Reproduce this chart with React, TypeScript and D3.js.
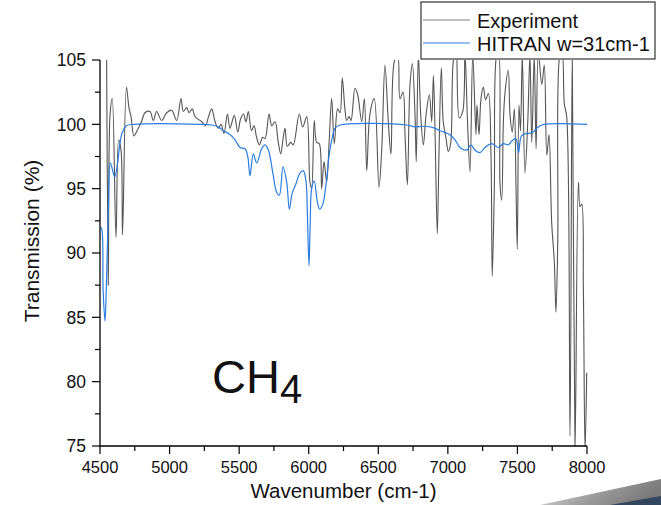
import React from "react";
import * as d3 from "d3";

const xTicks = [4500, 5000, 5500, 6000, 6500, 7000, 7500, 8000];
const yTicks = [75, 80, 85, 90, 95, 100, 105];
const legendLabels = ["Experiment", "HITRAN w=31cm-1"];

const experiment: [number, number][] = [
  [4547,105.8],[4560,87.5],[4572,100.7],[4588,102.0],[4615,91.2],[4634,98.8],[4651,98.0],[4662,91.4],
  [4690,102.9],[4708,101.3],[4723,100.6],[4744,99.1],[4766,99.5],[4798,100.2],[4823,100.9],[4859,101.0],
  [4883,100.3],[4907,101.0],[4943,100.3],[4979,100.9],[5015,101.1],[5051,100.3],[5082,102.0],[5099,101.0],
  [5123,101.3],[5140,100.9],[5163,101.2],[5183,100.6],[5231,100.2],[5258,99.9],[5280,100.6],[5303,101.2],
  [5327,100.2],[5350,99.7],[5370,100.0],[5391,99.3],[5416,100.8],[5434,99.7],[5465,100.7],[5490,99.4],
  [5510,100.4],[5531,100.8],[5549,100.2],[5566,101.0],[5589,99.5],[5607,99.9],[5625,99.0],[5645,98.4],
  [5669,99.0],[5686,98.9],[5715,100.8],[5734,99.9],[5758,100.2],[5781,98.6],[5799,97.7],[5817,99.0],
  [5830,99.7],[5846,98.3],[5871,98.6],[5889,98.4],[5932,100.8],[5957,99.8],[5986,100.6],[6009,95.5],
  [6021,95.0],[6040,100.3],[6057,98.6],[6076,98.5],[6093,95.0],[6110,97.1],[6129,95.5],[6148,98.9],
  [6165,102.0],[6184,98.5],[6208,101.2],[6225,100.9],[6241,103.6],[6261,101.1],[6273,100.3],[6290,100.6],
  [6304,100.3],[6333,102.8],[6352,102.3],[6381,100.2],[6400,102.0],[6417,96.4],[6440,100.8],[6471,102.0],
  [6505,95.1],[6525,98.1],[6548,104.6],[6572,100.2],[6591,97.7],[6615,104.9],[6640,105.4],[6656,102.0],
  [6678,102.5],[6692,99.2],[6709,95.3],[6728,103.1],[6745,104.7],[6764,100.7],[6773,97.1],[6788,105.4],
  [6805,100.7],[6824,98.4],[6843,100.7],[6867,102.3],[6884,100.2],[6896,103.8],[6908,99.4],[6924,91.5],
  [6936,97.6],[6953,104.4],[6967,100.2],[6987,98.9],[7003,97.9],[7020,98.5],[7039,104.9],[7059,105.8],
  [7082,100.5],[7107,101.0],[7123,105.6],[7141,100.3],[7159,96.3],[7179,105.4],[7202,99.2],[7209,101.5],
  [7224,99.2],[7238,102.0],[7255,102.9],[7271,101.9],[7291,102.4],[7310,97.6],[7319,88.2],[7334,95.0],
  [7351,105.4],[7364,105.6],[7375,95.3],[7387,94.1],[7399,100.2],[7411,102.5],[7434,104.2],[7447,100.7],
  [7463,99.4],[7478,101.2],[7490,95.0],[7499,90.3],[7511,101.5],[7522,99.5],[7535,105.4],[7554,96.2],
  [7574,100.1],[7590,105.4],[7603,98.6],[7621,105.4],[7634,98.1],[7650,105.6],[7675,103.1],[7693,104.6],
  [7711,97.6],[7727,99.2],[7746,92.4],[7765,89.3],[7777,85.4],[7790,91.0],[7806,105.4],[7820,105.6],
  [7837,101.6],[7854,100.6],[7878,75.8],[7894,105.6],[7914,74.6],[7938,95.5],[7950,93.6],[7962,93.8],
  [7974,87.2],[7986,74.6],[7998,80.7]
];

const hitran: [number, number][] = [
  [4500,92.0],[4511,91.9],[4522,87.2],[4536,84.7],[4545,87.1],[4560,93.3],[4574,97.0],[4596,96.2],
  [4606,95.9],[4624,96.8],[4642,98.4],[4658,99.3],[4692,99.9],[4749,100.0],[5219,100.0],[5305,99.95],
  [5350,99.8],[5386,99.5],[5422,99.3],[5470,98.8],[5506,98.2],[5542,98.1],[5562,97.5],[5578,96.0],
  [5602,97.7],[5626,97.0],[5662,98.1],[5686,98.4],[5710,98.0],[5741,96.3],[5770,94.7],[5789,94.5],
  [5815,96.7],[5842,95.5],[5861,93.4],[5880,94.6],[5909,95.4],[5937,96.2],[5961,96.4],[5981,95.5],
  [5990,93.2],[6002,89.0],[6011,92.4],[6021,95.0],[6040,95.6],[6060,94.1],[6078,93.4],[6101,93.8],
  [6124,95.3],[6148,97.7],[6168,98.9],[6189,99.7],[6225,99.95],[6704,99.95],[6764,99.8],[6824,99.85],
  [6896,99.75],[6944,99.5],[7015,99.2],[7051,98.8],[7087,98.2],[7136,98.0],[7165,98.4],[7195,98.0],
  [7231,97.8],[7267,98.2],[7315,98.5],[7363,98.2],[7399,98.5],[7434,98.4],[7459,98.7],[7488,98.9],
  [7508,97.8],[7529,99.1],[7567,99.3],[7590,99.3],[7614,99.4],[7639,99.7],[7675,99.95],[8000,100.0]
];

const FONT = "'Liberation Sans', Arial, sans-serif";

export default function App() {
  const left = 100, right = 587, top = 60, bottom = 446;
  const x = d3.scaleLinear().domain([4500, 8000]).range([left, right]);
  const y = d3.scaleLinear().domain([75, 105]).range([bottom, top]);

  const expLine = d3.line<[number, number]>()
    .x(d => x(d[0])).y(d => y(d[1])).curve(d3.curveCatmullRom.alpha(0.5));
  const hitLine = d3.line<[number, number]>()
    .x(d => x(d[0])).y(d => y(d[1])).curve(d3.curveCatmullRom.alpha(0.5));

  const xMinor = d3.range(4750, 8000, 500);
  const yMinor = d3.range(77.5, 105, 5);

  return (
    <svg width={661} height={505} style={{ position: "absolute", left: 0, top: 0, background: "#fff" }}
      fontFamily={FONT}>
      <defs>
        <clipPath id="plot">
          <rect x={left} y={top} width={right - left + 1} height={bottom - top} />
        </clipPath>
        <linearGradient id="wedge" x1="0" y1="0" x2="1" y2="0.3">
          <stop offset="0" stopColor="#e6e6e6" />
          <stop offset="0.6" stopColor="#9a9a9a" />
          <stop offset="1" stopColor="#7a7a7a" />
        </linearGradient>
      </defs>

      {/* decorative wedge bottom-right */}
      <polygon points="540,505 661,479 661,505" fill="url(#wedge)" />
      <polygon points="610,505 661,496 661,505" fill="#34465e" />

      <g clipPath="url(#plot)">
        <path d={expLine(experiment) || ""} fill="none" stroke="#555" strokeWidth={1.1} />
        <path d={hitLine(hitran) || ""} fill="none" stroke="#2a7de1" strokeWidth={1.2} />
      </g>

      {/* axes */}
      <line x1={left} x2={left} y1={top} y2={bottom} stroke="#000" strokeWidth={1.3} />
      <line x1={left} x2={right} y1={bottom} y2={bottom} stroke="#000" strokeWidth={1.3} />
      {xTicks.map(t => (
        <g key={"xt" + t}>
          <line x1={x(t)} x2={x(t)} y1={bottom} y2={bottom + 8} stroke="#000" strokeWidth={1.2} />
          <text x={x(t)} y={473} textAnchor="middle" fontSize={16.5} fill="#111">{t}</text>
        </g>
      ))}
      {xMinor.map(t => (
        <line key={"xm" + t} x1={x(t)} x2={x(t)} y1={bottom} y2={bottom + 5} stroke="#000" strokeWidth={1.2} />
      ))}
      {yTicks.map(t => (
        <g key={"yt" + t}>
          <line x1={left - 8} x2={left} y1={y(t)} y2={y(t)} stroke="#000" strokeWidth={1.2} />
          <text x={86} y={y(t)} dy="0.36em" textAnchor="end" fontSize={17.5} fill="#111">{t}</text>
        </g>
      ))}
      {yMinor.map(t => (
        <line key={"ym" + t} x1={left - 5} x2={left} y1={y(t)} y2={y(t)} stroke="#000" strokeWidth={1.2} />
      ))}

      {/* axis titles */}
      <text x={(left + right) / 2} y={498} textAnchor="middle" fontSize={20.5} fill="#111">Wavenumber (cm-1)</text>
      <text transform="translate(39,241) rotate(-90)" textAnchor="middle" fontSize={21} fill="#111">Transmission (%)</text>

      {/* CH4 label */}
      <text x={212} y={393} fontSize={47} fill="#111">
        CH<tspan dy={10} fontSize={40}>4</tspan>
      </text>

      {/* legend */}
      <rect x={421} y={2} width={234} height={57} fill="#fff" stroke="#333" strokeWidth={1.2} />
      <line x1={423} x2={470} y1={20} y2={20} stroke="#808080" strokeWidth={1.2} />
      <text x={477} y={27.5} fontSize={20} fill="#111">{legendLabels[0]}</text>
      <line x1={423} x2={470} y1={43} y2={43} stroke="#2a7de1" strokeWidth={1.2} />
      <text x={477} y={50.5} fontSize={20} fill="#111">{legendLabels[1]}</text>
    </svg>
  );
}
